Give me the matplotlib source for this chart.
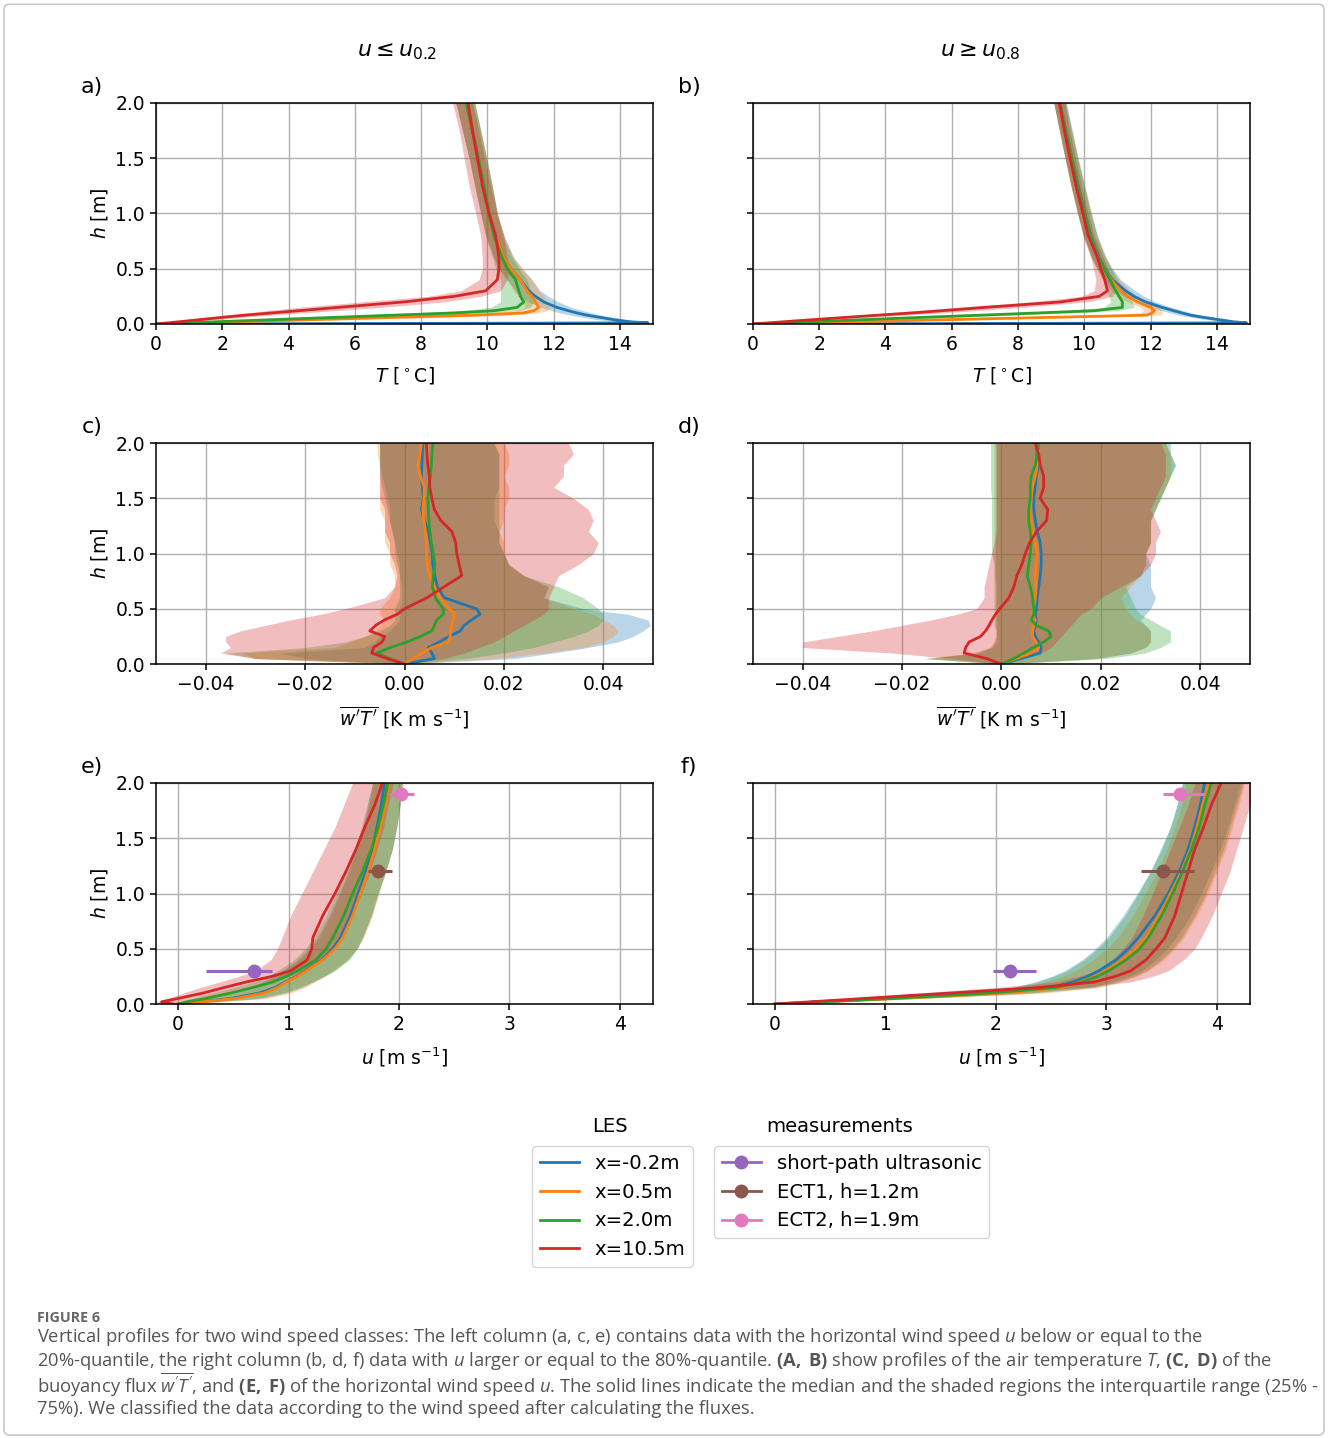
import matplotlib
matplotlib.use("Agg")
import numpy as np
import matplotlib.pyplot as plt
from matplotlib.lines import Line2D
from matplotlib.patches import FancyBboxPatch

# ---------------- data ----------------
LES_LABELS = ["x=-0.2m", "x=0.5m", "x=2.0m", "x=10.5m"]
MEAS_LABELS = ["short-path ultrasonic", "ECT1, h=1.2m", "ECT2, h=1.9m"]

# heights [m]
H_T = [0, 0.01, 0.02, 0.04, 0.06, 0.08, 0.10, 0.12, 0.15, 0.20, 0.25, 0.30,
       0.40, 0.50, 0.60, 0.80, 1.00, 1.25, 1.50, 1.75, 2.00]
H_F = [0, 0.05, 0.1, 0.15, 0.2, 0.25, 0.3, 0.35, 0.4, 0.45, 0.5, 0.6, 0.7,
       0.8, 0.9, 1.0, 1.1, 1.2, 1.3, 1.4, 1.5, 1.6, 1.7, 1.8, 1.9, 2.0]
H_U = [0, 0.02, 0.05, 0.1, 0.15, 0.2, 0.25, 0.3, 0.4, 0.5, 0.6, 0.8, 1.0,
       1.2, 1.4, 1.6, 1.8, 2.0]

# a) temperature, low wind (median, 25%, 75%) for the four LES positions
a_med = [
    [0, 14.85, 14.3, 13.8, 13.4, 13.0, 12.7, 12.45, 12.1, 11.7, 11.45, 11.25, 11.0, 10.7, 10.5, 10.25, 10.05, 9.9, 9.73, 9.55, 9.37],
    [0, 1.2, 2.4, 4.8, 7.2, 9.6, 11.1, 11.4, 11.55, 11.45, 11.35, 11.2, 11.0, 10.7, 10.5, 10.25, 10.05, 9.9, 9.73, 9.55, 9.37],
    [0, 0.9, 1.8, 3.6, 5.4, 7.2, 9.0, 10.2, 10.9, 11.1, 11.0, 10.95, 10.85, 10.6, 10.45, 10.2, 10.05, 9.9, 9.73, 9.55, 9.37],
    [0, 0.35, 0.7, 1.35, 2.0, 2.7, 3.5, 4.3, 5.5, 7.5, 9.0, 9.95, 10.3, 10.35, 10.35, 10.25, 10.05, 9.85, 9.7, 9.55, 9.42],
]
a_lo = [
    [0, 14.6, 13.9, 13.3, 12.9, 12.5, 12.2, 11.95, 11.6, 11.25, 11.0, 10.85, 10.6, 10.35, 10.2, 9.95, 9.8, 9.62, 9.45, 9.25, 9.05],
    [0, 0.9, 1.9, 3.9, 6.0, 8.3, 10.3, 10.85, 11.15, 11.05, 10.95, 10.8, 10.6, 10.35, 10.2, 9.95, 9.8, 9.62, 9.45, 9.25, 9.05],
    [0, 0.7, 1.4, 2.9, 4.4, 6.0, 7.8, 9.2, 10.1, 10.4, 10.4, 10.4, 10.4, 10.25, 10.15, 9.95, 9.8, 9.62, 9.45, 9.25, 9.05],
    [0, 0.25, 0.5, 1.0, 1.5, 2.1, 2.7, 3.3, 4.3, 6.2, 8.2, 9.2, 9.75, 9.85, 9.85, 9.8, 9.65, 9.45, 9.3, 9.15, 8.95],
]
a_hi = [
    [0, 14.95, 14.6, 14.2, 13.8, 13.45, 13.15, 12.9, 12.55, 12.15, 11.85, 11.6, 11.35, 11.05, 10.8, 10.5, 10.3, 10.15, 9.98, 9.8, 9.62],
    [0, 1.6, 3.1, 6.0, 8.6, 10.7, 11.55, 11.8, 11.9, 11.8, 11.7, 11.55, 11.35, 11.05, 10.8, 10.5, 10.3, 10.15, 9.98, 9.8, 9.62],
    [0, 1.2, 2.3, 4.5, 6.6, 8.5, 10.1, 10.9, 11.3, 11.4, 11.35, 11.3, 11.2, 10.95, 10.75, 10.45, 10.3, 10.15, 9.98, 9.8, 9.62],
    [0, 0.5, 1.0, 1.8, 2.6, 3.5, 4.4, 5.4, 6.8, 8.7, 9.8, 10.4, 10.6, 10.65, 10.6, 10.5, 10.3, 10.1, 9.92, 9.75, 9.55],
]

# b) temperature, high wind
b_med = [
    [0, 14.9, 14.5, 14.05, 13.6, 13.2, 12.95, 12.7, 12.35, 11.85, 11.5, 11.25, 10.85, 10.62, 10.45, 10.2, 10.02, 9.82, 9.63, 9.45, 9.27],
    [0, 1.5, 3.0, 6.0, 9.0, 11.9, 12.05, 12.12, 12.0, 11.6, 11.3, 11.1, 10.82, 10.6, 10.43, 10.18, 10.0, 9.8, 9.62, 9.44, 9.25],
    [0, 0.85, 1.7, 3.4, 5.1, 6.9, 8.6, 10.3, 11.15, 11.15, 11.05, 10.95, 10.78, 10.6, 10.43, 10.18, 10.0, 9.8, 9.62, 9.44, 9.25],
    [0, 0.46, 0.92, 1.85, 2.8, 3.8, 4.8, 5.7, 7.0, 9.3, 10.45, 10.7, 10.62, 10.5, 10.4, 10.12, 9.96, 9.75, 9.57, 9.4, 9.25],
]
b_lo = [
    [0, 14.75, 14.2, 13.7, 13.25, 12.85, 12.6, 12.35, 12.0, 11.55, 11.2, 10.95, 10.6, 10.4, 10.22, 9.98, 9.8, 9.6, 9.42, 9.25, 9.08],
    [0, 1.2, 2.5, 5.2, 8.0, 10.9, 11.7, 11.8, 11.7, 11.3, 11.0, 10.82, 10.58, 10.38, 10.22, 9.98, 9.8, 9.6, 9.42, 9.25, 9.08],
    [0, 0.65, 1.35, 2.8, 4.3, 5.9, 7.6, 9.3, 10.6, 10.8, 10.75, 10.68, 10.55, 10.38, 10.22, 9.98, 9.8, 9.6, 9.42, 9.25, 9.08],
    [0, 0.35, 0.7, 1.45, 2.25, 3.1, 4.0, 4.9, 6.1, 8.4, 9.9, 10.3, 10.35, 10.28, 10.2, 9.95, 9.8, 9.6, 9.42, 9.25, 9.08],
]
b_hi = [
    [0, 15.0, 14.75, 14.35, 13.9, 13.5, 13.25, 13.0, 12.65, 12.15, 11.8, 11.55, 11.1, 10.85, 10.66, 10.4, 10.22, 10.02, 9.82, 9.64, 9.46],
    [0, 1.8, 3.5, 6.8, 10.0, 12.3, 12.35, 12.35, 12.25, 11.9, 11.6, 11.38, 11.06, 10.82, 10.64, 10.38, 10.2, 10.0, 9.8, 9.62, 9.44],
    [0, 1.05, 2.1, 4.0, 6.0, 7.9, 9.6, 11.0, 11.5, 11.45, 11.35, 11.22, 11.0, 10.82, 10.64, 10.38, 10.2, 10.0, 9.8, 9.62, 9.44],
    [0, 0.6, 1.2, 2.3, 3.4, 4.6, 5.7, 6.7, 8.1, 10.1, 10.85, 10.95, 10.85, 10.7, 10.58, 10.3, 10.12, 9.92, 9.74, 9.56, 9.42],
]

# c) buoyancy flux, low wind
c_med = [
    [0, 0.0060, 0.0055, 0.0048, 0.0070, 0.0090, 0.0112, 0.0120, 0.0135, 0.0152, 0.0145, 0.0080, 0.0066, 0.0061, 0.0057, 0.0056, 0.0052, 0.0048, 0.0040, 0.0034, 0.0038, 0.0036, 0.0034, 0.0035, 0.0036, 0.0037],
    [0, 0.0018, 0.0035, 0.0055, 0.0088, 0.0092, 0.0093, 0.0095, 0.0098, 0.0101, 0.0090, 0.0072, 0.0060, 0.0050, 0.0046, 0.0044, 0.0044, 0.0042, 0.0039, 0.0037, 0.0039, 0.0040, 0.0032, 0.0027, 0.0031, 0.0034],
    [0, -0.0030, -0.0056, -0.0028, 0.0005, 0.0032, 0.0055, 0.0060, 0.0065, 0.0078, 0.0078, 0.0062, 0.0056, 0.0058, 0.0061, 0.0058, 0.0054, 0.0051, 0.0049, 0.0048, 0.0047, 0.0049, 0.0052, 0.0054, 0.0055, 0.0057],
    [0, -0.0035, -0.0066, -0.0062, -0.0045, -0.0040, -0.0070, -0.0058, -0.0040, -0.0015, 0.0000, 0.0045, 0.0080, 0.0115, 0.0110, 0.0105, 0.0103, 0.0095, 0.0073, 0.0060, 0.0055, 0.0051, 0.0050, 0.0047, 0.0045, 0.0044],
]
c_lo = [
    [0, -0.020, -0.025, -0.008, -0.006, -0.005, -0.003, -0.002, -0.001, -0.001, -0.001, -0.0005, -0.0005, -0.001, -0.001, -0.0015, -0.002, -0.0025, -0.003, -0.0035, -0.004, -0.0045, -0.005, -0.005, -0.005, -0.005],
    [0, -0.030, -0.033, -0.014, -0.011, -0.008, -0.006, -0.005, -0.004, -0.005, -0.005, -0.003, -0.002, -0.002, -0.003, -0.003, -0.004, -0.004, -0.004, -0.005, -0.005, -0.005, -0.005, -0.005, -0.0055, -0.0055],
    [0, -0.030, -0.036, -0.020, -0.012, -0.008, -0.005, -0.003, -0.002, -0.002, -0.002, -0.001, -0.001, -0.001, -0.0015, -0.002, -0.002, -0.0025, -0.003, -0.003, -0.0035, -0.004, -0.0045, -0.005, -0.005, -0.005],
    [0, -0.030, -0.037, -0.035, -0.036, -0.036, -0.033, -0.028, -0.023, -0.017, -0.012, -0.004, -0.002, -0.0015, -0.002, -0.003, -0.003, -0.004, -0.004, -0.004, -0.005, -0.005, -0.005, -0.005, -0.005, -0.005],
]
c_hi = [
    [0, 0.022, 0.030, 0.037, 0.043, 0.046, 0.048, 0.0495, 0.049, 0.045, 0.036, 0.028, 0.029, 0.024, 0.021, 0.020, 0.019, 0.019, 0.018, 0.018, 0.018, 0.019, 0.019, 0.019, 0.019, 0.018],
    [0, 0.018, 0.028, 0.036, 0.040, 0.042, 0.043, 0.042, 0.040, 0.038, 0.034, 0.028, 0.029, 0.024, 0.021, 0.020, 0.020, 0.019, 0.020, 0.020, 0.021, 0.021, 0.020, 0.021, 0.021, 0.020],
    [0, 0.012, 0.020, 0.026, 0.030, 0.034, 0.037, 0.039, 0.040, 0.040, 0.039, 0.036, 0.031, 0.024, 0.021, 0.020, 0.019, 0.019, 0.019, 0.019, 0.019, 0.019, 0.019, 0.019, 0.019, 0.018],
    [0, 0.008, 0.012, 0.015, 0.018, 0.020, 0.022, 0.024, 0.026, 0.028, 0.029, 0.029, 0.030, 0.031, 0.035, 0.038, 0.039, 0.037, 0.038, 0.037, 0.034, 0.030, 0.032, 0.032, 0.034, 0.033],
]

# d) buoyancy flux, high wind
d_med = [
    [0, 0.0040, 0.0078, 0.0080, 0.0075, 0.0068, 0.0065, 0.0068, 0.0070, 0.0068, 0.0070, 0.0072, 0.0075, 0.0078, 0.0080, 0.0080, 0.0078, 0.0072, 0.0068, 0.0065, 0.0065, 0.0068, 0.0070, 0.0075, 0.0072, 0.0070],
    [0, 0.0030, 0.0060, 0.0075, 0.0070, 0.0062, 0.0063, 0.0065, 0.0068, 0.0062, 0.0065, 0.0068, 0.0070, 0.0068, 0.0070, 0.0072, 0.0068, 0.0062, 0.0060, 0.0058, 0.0060, 0.0062, 0.0068, 0.0072, 0.0075, 0.0072],
    [0, 0.0025, 0.0045, 0.0065, 0.0085, 0.0100, 0.0095, 0.0070, 0.0060, 0.0065, 0.0065, 0.0063, 0.0058, 0.0052, 0.0055, 0.0058, 0.0060, 0.0058, 0.0055, 0.0055, 0.0058, 0.0058, 0.0060, 0.0068, 0.0072, 0.0075],
    [0, -0.0030, -0.0075, -0.0072, -0.0065, -0.0042, -0.0032, -0.0025, -0.0019, -0.0012, -0.0003, 0.0015, 0.0025, 0.0031, 0.0041, 0.0048, 0.0057, 0.0071, 0.0091, 0.0093, 0.0078, 0.0085, 0.0085, 0.0078, 0.0075, 0.0068],
]
d_lo = [
    [0, -0.015, -0.005, -0.002, -0.0015, -0.001, -0.001, -0.001, -0.001, -0.001, -0.001, -0.001, -0.001, -0.0012, -0.0012, -0.0012, -0.0012, -0.0012, -0.0012, -0.0012, -0.0012, -0.0012, -0.0012, -0.0012, -0.0012, -0.0012],
    [0, -0.016, -0.006, -0.0025, -0.0015, -0.0012, -0.0012, -0.0012, -0.0012, -0.0012, -0.0012, -0.0012, -0.0012, -0.0015, -0.0015, -0.0015, -0.0015, -0.0015, -0.0015, -0.0015, -0.0015, -0.0015, -0.0015, -0.0015, -0.0015, -0.0015],
    [0, -0.015, -0.005, -0.002, -0.001, -0.001, -0.001, -0.0015, -0.0015, -0.0015, -0.0015, -0.0015, -0.0015, -0.0015, -0.0015, -0.002, -0.002, -0.002, -0.002, -0.002, -0.002, -0.0022, -0.0022, -0.0022, -0.0022, -0.0022],
    [0, -0.010, -0.022, -0.040, -0.040, -0.033, -0.026, -0.020, -0.014, -0.009, -0.005, -0.0035, -0.0035, -0.003, -0.0025, -0.002, -0.0015, -0.001, -0.001, -0.001, -0.001, -0.001, -0.001, -0.001, -0.001, -0.001],
]
d_hi = [
    [0, 0.019, 0.026, 0.029, 0.030, 0.030, 0.030, 0.029, 0.028, 0.029, 0.030, 0.031, 0.030, 0.030, 0.030, 0.029, 0.030, 0.030, 0.030, 0.031, 0.032, 0.033, 0.034, 0.035, 0.034, 0.034],
    [0, 0.019, 0.026, 0.029, 0.030, 0.030, 0.030, 0.029, 0.027, 0.026, 0.025, 0.024, 0.026, 0.028, 0.029, 0.029, 0.030, 0.030, 0.030, 0.031, 0.032, 0.033, 0.034, 0.034, 0.034, 0.033],
    [0, 0.021, 0.029, 0.032, 0.034, 0.034, 0.034, 0.032, 0.030, 0.028, 0.027, 0.026, 0.025, 0.028, 0.029, 0.029, 0.030, 0.030, 0.030, 0.031, 0.032, 0.033, 0.034, 0.035, 0.034, 0.033],
    [0, 0.004, 0.008, 0.010, 0.011, 0.012, 0.013, 0.014, 0.015, 0.016, 0.018, 0.020, 0.024, 0.028, 0.030, 0.031, 0.031, 0.032, 0.031, 0.030, 0.031, 0.032, 0.033, 0.033, 0.033, 0.032],
]

# e) wind speed, low wind
e_med = [
    [0, 0.18, 0.48, 0.74, 0.88, 0.97, 1.07, 1.15, 1.30, 1.40, 1.47, 1.56, 1.63, 1.70, 1.76, 1.80, 1.84, 1.87],
    [0, 0.20, 0.52, 0.78, 0.90, 0.98, 1.08, 1.16, 1.31, 1.42, 1.49, 1.58, 1.65, 1.72, 1.78, 1.83, 1.88, 1.91],
    [0, 0.08, 0.25, 0.48, 0.68, 0.86, 0.98, 1.08, 1.25, 1.34, 1.40, 1.50, 1.58, 1.67, 1.75, 1.81, 1.86, 1.90],
    [-0.05, -0.15, 0.0, 0.23, 0.42, 0.62, 0.85, 1.02, 1.17, 1.21, 1.22, 1.31, 1.42, 1.52, 1.61, 1.69, 1.78, 1.85],
]
e_lo = [
    [0, 0.05, 0.25, 0.50, 0.66, 0.76, 0.86, 0.94, 1.08, 1.18, 1.26, 1.37, 1.46, 1.54, 1.61, 1.67, 1.72, 1.76],
    [0, 0.06, 0.28, 0.54, 0.70, 0.80, 0.90, 0.97, 1.10, 1.20, 1.28, 1.38, 1.47, 1.55, 1.62, 1.68, 1.73, 1.77],
    [-0.05, 0.0, 0.12, 0.30, 0.50, 0.68, 0.80, 0.90, 1.05, 1.15, 1.23, 1.34, 1.43, 1.52, 1.60, 1.66, 1.71, 1.76],
    [-0.15, -0.2, -0.1, 0.05, 0.2, 0.38, 0.55, 0.70, 0.84, 0.90, 0.94, 1.02, 1.12, 1.22, 1.32, 1.42, 1.50, 1.58],
]
e_hi = [
    [0.05, 0.35, 0.75, 0.98, 1.12, 1.22, 1.32, 1.40, 1.53, 1.62, 1.67, 1.75, 1.81, 1.88, 1.94, 1.98, 2.01, 2.03],
    [0.05, 0.38, 0.80, 1.02, 1.15, 1.24, 1.33, 1.41, 1.54, 1.62, 1.68, 1.76, 1.82, 1.88, 1.94, 1.98, 2.01, 2.04],
    [0.05, 0.30, 0.70, 0.95, 1.10, 1.22, 1.32, 1.42, 1.55, 1.62, 1.67, 1.75, 1.81, 1.88, 1.94, 1.98, 2.01, 2.03],
    [0, 0.0, 0.2, 0.45, 0.65, 0.85, 1.0, 1.12, 1.32, 1.42, 1.48, 1.58, 1.66, 1.74, 1.80, 1.86, 1.90, 1.95],
]

# f) wind speed, high wind
f_med = [
    [0, 0.40, 1.0, 1.95, 2.5, 2.70, 2.83, 2.93, 3.09, 3.20, 3.29, 3.44, 3.56, 3.66, 3.74, 3.80, 3.85, 3.89],
    [0, 0.45, 1.1, 2.1, 2.6, 2.76, 2.90, 3.00, 3.15, 3.27, 3.36, 3.48, 3.58, 3.68, 3.76, 3.82, 3.87, 3.93],
    [0, 0.42, 1.05, 1.95, 2.55, 2.78, 2.92, 3.02, 3.18, 3.30, 3.38, 3.50, 3.60, 3.69, 3.77, 3.84, 3.89, 3.95],
    [0, 0.32, 0.80, 1.60, 2.40, 2.90, 3.08, 3.22, 3.36, 3.45, 3.53, 3.62, 3.68, 3.74, 3.80, 3.88, 3.95, 4.04],
]
f_lo = [
    [0, 0.30, 0.8, 1.6, 2.15, 2.35, 2.50, 2.62, 2.78, 2.90, 3.00, 3.15, 3.28, 3.40, 3.49, 3.58, 3.64, 3.69],
    [0, 0.32, 0.85, 1.7, 2.25, 2.45, 2.60, 2.72, 2.88, 3.00, 3.10, 3.24, 3.35, 3.46, 3.55, 3.62, 3.68, 3.72],
    [0, 0.30, 0.80, 1.6, 2.15, 2.38, 2.52, 2.64, 2.80, 2.92, 3.02, 3.17, 3.29, 3.40, 3.50, 3.58, 3.64, 3.69],
    [0, 0.25, 0.62, 1.3, 2.0, 2.55, 2.75, 2.90, 3.05, 3.15, 3.23, 3.33, 3.42, 3.50, 3.58, 3.66, 3.74, 3.80],
]
f_hi = [
    [0, 0.50, 1.25, 2.3, 2.85, 3.05, 3.20, 3.32, 3.45, 3.55, 3.63, 3.76, 3.86, 3.95, 4.03, 4.10, 4.16, 4.22],
    [0, 0.55, 1.35, 2.45, 2.95, 3.12, 3.27, 3.38, 3.52, 3.62, 3.70, 3.82, 3.92, 4.00, 4.08, 4.14, 4.20, 4.25],
    [0, 0.52, 1.3, 2.35, 2.9, 3.10, 3.25, 3.36, 3.50, 3.60, 3.68, 3.80, 3.90, 3.98, 4.06, 4.12, 4.18, 4.24],
    [0, 0.42, 1.0, 1.95, 2.8, 3.22, 3.42, 3.56, 3.70, 3.80, 3.86, 3.96, 4.04, 4.12, 4.18, 4.24, 4.30, 4.35],
]

# measurements: height, median u and spread
meas_h = [0.3, 1.2, 1.9]
e_meas_u = [0.69, 1.81, 2.02]
e_meas_lo = [0.25, 1.72, 1.91]
e_meas_hi = [0.85, 1.94, 2.14]
f_meas_u = [2.13, 3.51, 3.67]
f_meas_lo = [1.97, 3.31, 3.51]
f_meas_hi = [2.36, 3.79, 3.88]

# ---------------- style ----------------
LES_COLORS = ["#1f77b4", "#ff7f0e", "#2ca02c", "#d62728"]
MEAS_COLORS = ["#9467bd", "#8c564b", "#e377c2"]
FS = 13.5
LEG_FS = 14.1

plt.rcParams.update({
    "font.family": "DejaVu Sans",
    "font.size": FS,
    "axes.linewidth": 1.1,
    "xtick.major.width": 1.1,
    "ytick.major.width": 1.1,
    "xtick.major.size": 4.5,
    "ytick.major.size": 4.5,
    "grid.color": "#b0b0b0",
    "grid.linewidth": 1.0,
    "mathtext.rm": "Open Sans",
    "mathtext.it": "Open Sans:italic",
    "mathtext.bf": "Open Sans:bold",
})

fig = plt.figure(figsize=(13.28, 14.38), dpi=100)

W, H = 0.3742, 0.1537
LEFTS = [0.1175, 0.567]
BOTTOMS = [0.7747, 0.5382, 0.3018]

panels = [
    (a_med, a_lo, a_hi, H_T), (b_med, b_lo, b_hi, H_T),
    (c_med, c_lo, c_hi, H_F), (d_med, d_lo, d_hi, H_F),
    (e_med, e_lo, e_hi, H_U), (f_med, f_lo, f_hi, H_U),
]
letters = ["a)", "b)", "c)", "d)", "e)", "f)"]
xlabels = [r"$T\ [^\circ$C]", r"$\overline{w'T'}$ [K m s$^{-1}$]", r"$u$ [m s$^{-1}$]"]
xlims = [(0, 15), (-0.05, 0.05), (-0.2, 4.3)]
xticks = [np.arange(0, 15, 2), [-0.04, -0.02, 0.0, 0.02, 0.04], [0, 1, 2, 3, 4]]

axes = []
for k, (med, lo, hi, hgt) in enumerate(panels):
    row, col = divmod(k, 2)
    ax = fig.add_axes([LEFTS[col], BOTTOMS[row], W, H])
    axes.append(ax)
    for i in range(4):
        ax.fill_betweenx(hgt, lo[i], hi[i], color=LES_COLORS[i], alpha=0.3, lw=0)
    for i in range(4):
        ax.plot(med[i], hgt, color=LES_COLORS[i], lw=2)
    ax.set_xlim(*xlims[row])
    ax.set_xticks(xticks[row])
    if row == 1:
        ax.set_xticklabels(["\u22120.04", "\u22120.02", "0.00", "0.02", "0.04"])
    ax.set_ylim(0, 2)
    ax.set_yticks([0, 0.5, 1.0, 1.5, 2.0])
    ax.grid(True)
    ax.set_axisbelow(True)
    ax.set_xlabel(xlabels[row], labelpad=8)
    if col == 0:
        ax.set_ylabel(r"$h$ [m]")
    else:
        ax.tick_params(labelleft=False)
    fig.text(LEFTS[col] - 0.0482, BOTTOMS[row] + H + 0.011, letters[k],
             fontsize=16, ha="center", va="center")

# measurements in e) and f)
for ax, mu, mlo, mhi in [(axes[4], e_meas_u, e_meas_lo, e_meas_hi),
                         (axes[5], f_meas_u, f_meas_lo, f_meas_hi)]:
    for j in range(3):
        ax.errorbar(mu[j], meas_h[j], xerr=[[mu[j] - mlo[j]], [mhi[j] - mu[j]]],
                    fmt="o", color=MEAS_COLORS[j], ms=9, elinewidth=2.2, capsize=0,
                    zorder=5)

# column titles
fig.text(0.299, 0.9638, r"$u \leq u_{0.2}$", fontsize=16, ha="center", va="center")
fig.text(0.738, 0.9638, r"$u \geq u_{0.8}$", fontsize=16, ha="center", va="center")

# legends
les_handles = [Line2D([], [], color=c, lw=2) for c in LES_COLORS]
meas_handles = [Line2D([], [], color=c, lw=2, marker="o", ms=9) for c in MEAS_COLORS]
fig.legend(les_handles, LES_LABELS, loc="upper left",
           bbox_to_anchor=(0.4006, 0.2031), borderaxespad=0,
           fontsize=LEG_FS, handlelength=2.0, labelspacing=0.5)
fig.legend(meas_handles, MEAS_LABELS, loc="upper left",
           bbox_to_anchor=(0.5377, 0.2031), borderaxespad=0,
           fontsize=LEG_FS, handlelength=2.0, labelspacing=0.5)
fig.text(0.4593, 1 - 1127 / 1438, "LES", ha="center", va="center", fontsize=LEG_FS)
fig.text(0.6325, 1 - 1127 / 1438, "measurements", ha="center", va="center", fontsize=LEG_FS)

# caption
CAP_COLOR = "#555555"
fig.text(37 / 1328, 1 - 1318 / 1438, "FIGURE 6", fontsize=10.3, fontweight="bold",
         color="#666666", family="Open Sans", va="center")
caption = [
    r"Vertical profiles for two wind speed classes: The left column (a, c, e) contains data with the horizontal wind speed $\mathit{u}$ below or equal to the",
    r"20%-quantile, the right column (b, d, f) data with $\mathit{u}$ larger or equal to the 80%-quantile. $\mathbf{(A,}$ $\mathbf{B)}$ show profiles of the air temperature $\mathit{T}$, $\mathbf{(C,}$ $\mathbf{D)}$ of the",
    r"buoyancy flux $\overline{\mathit{w'T'}}$, and $\mathbf{(E,}$ $\mathbf{F)}$ of the horizontal wind speed $\mathit{u}$. The solid lines indicate the median and the shaded regions the interquartile range (25% -",
    r"75%). We classified the data according to the wind speed after calculating the fluxes.",
]
for n, line in enumerate(caption):
    fig.text(37 / 1328, 1 - (1337 + 24 * n) / 1438, line, fontsize=13.25,
             color=CAP_COLOR, family="Open Sans", va="center",
             math_fontfamily="custom")

# outer frame
fig.patches.append(FancyBboxPatch((0.003, 0.002), 0.994, 0.995,
                                  boxstyle="round,pad=0,rounding_size=0.004",
                                  transform=fig.transFigure, fill=False,
                                  ec="#c8c8c8", lw=1.2))

fig.savefig("out.png", dpi=100)
